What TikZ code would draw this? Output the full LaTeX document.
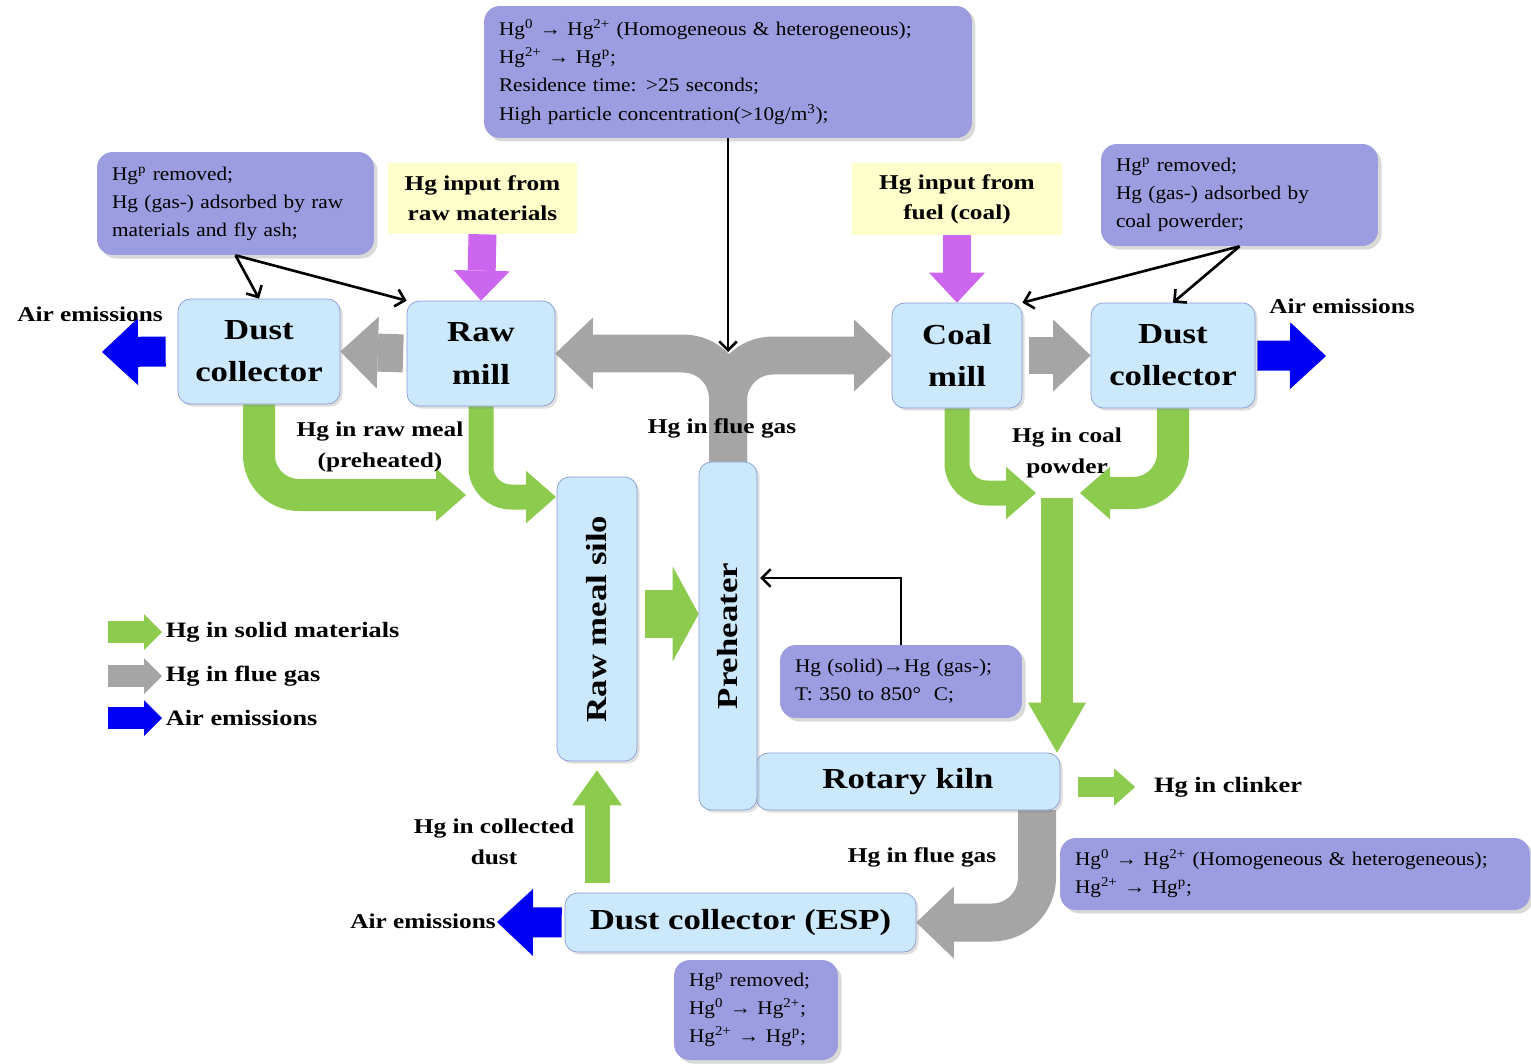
\documentclass[tikz,border=0pt]{standalone}
\usepackage{fontspec}
\setmainfont{Liberation Serif}[FakeStretch=1.2]
\newfontfamily\notefont{Liberation Serif}[FakeStretch=1.1]
\usetikzlibrary{calc}
\usetikzlibrary{shadows}
\usetikzlibrary{positioning, arrows.meta}

\definecolor{unitfill}{HTML}{CCE8FC}
\definecolor{unitline}{HTML}{8A9AD8}
\definecolor{notefill}{HTML}{9C9CE0}
\definecolor{srcfill}{HTML}{FFFFCC}
\definecolor{solidgreen}{HTML}{8DCB4E}
\definecolor{gasgrey}{HTML}{A5A5A5}
\definecolor{airblue}{HTML}{0000F5}
\definecolor{inputpink}{HTML}{CC66EE}

\pgfdeclarelayer{flows}
\pgfsetlayers{flows,main}

\begin{document}
\begin{tikzpicture}[x=0.02cm, y=-0.02cm]
        \useasboundingbox (0, 0) rectangle (1531, 1064);
        % Define styles for shapes
        \tikzstyle{unit} = [draw=unitline, fill=unitfill, rounded corners=7pt, inner sep=2pt, align=center, font=\fontsize{16.5}{24}\selectfont\bfseries, drop shadow={opacity=0.25, shadow xshift=1.5pt, shadow yshift=-1.5pt}]
        \tikzstyle{note} = [fill=notefill, rounded corners=9pt, inner xsep=0.3cm, align=left, font=\notefont\fontsize{11}{16}\selectfont, drop shadow={opacity=0.3, shadow xshift=2pt, shadow yshift=-2pt}]
        \tikzstyle{source} = [fill=srcfill, align=center, font=\fontsize{12}{17}\selectfont\bfseries]
        \tikzstyle{flowtext} = [inner sep=2pt, align=center, font=\fontsize{12}{17.5}\selectfont\bfseries]
        % Define styles for arrows
        \tikzstyle{solidflow} = [draw=solidgreen, line width=0.64cm, -{Triangle[length=0.6cm, width=1.05cm, line width=0pt]}]
        \tikzstyle{gasflow} = [draw=gasgrey, line width=0.76cm, -{Triangle[length=0.75cm, width=1.44cm, line width=0pt]}]
        \tikzstyle{airflow} = [draw=airblue, line width=0.6cm, -{Triangle[length=0.72cm, width=1.34cm, line width=0pt]}]
        \tikzstyle{inflow} = [draw=inputpink, line width=0.56cm, -{Triangle[length=0.6cm, width=1.12cm, line width=0pt]}]
        \tikzstyle{keyflow} = [line width=0.44cm, -{Triangle[length=0.36cm, width=0.72cm, line width=0pt]}]
        \tikzstyle{link} = [draw=black, line width=1.5pt, -{Straight Barb[length=5pt, width=10pt]}]

        % Draw shapes
        \node[unit, minimum width=3.24cm, minimum height=2.1cm] (dcl) at (259, 351.5) {Dust\\collector};
        \node[unit, minimum width=2.96cm, minimum height=2.1cm] (raw) at (481, 353.5) {Raw\\mill};
        \node[unit, minimum width=2.6cm, minimum height=2.1cm] (coal) at (957, 355.5) {Coal\\mill};
        \node[unit, minimum width=3.28cm, minimum height=2.1cm] (dcr) at (1173, 355.5) {Dust\\collector};
        \node[unit, minimum width=1.6cm, minimum height=5.68cm] (silo) at (597, 619) {\rotatebox{90}{Raw meal silo}};
        \node[unit, minimum width=6.08cm, minimum height=1.14cm] (kiln) at (908, 781.5) {Rotary kiln};
        \node[unit, minimum width=1.16cm, minimum height=6.96cm] (pre) at (728, 636) {\rotatebox{90}{Preheater}};
        \node[unit, minimum width=7.02cm, minimum height=1.18cm] (esp) at (740.5, 922.5) {Dust collector (ESP)};

        \node[source, minimum width=3.78cm, minimum height=1.42cm] (srcraw) at (482.5, 198.5) {Hg input from\\raw materials};
        \node[source, minimum width=4.2cm, minimum height=1.44cm] (srcfuel) at (957, 199) {Hg input from\\fuel (coal)};

        \node[note, text width=9.16cm, minimum height=2.64cm] (notetop) at (728, 72) {
            Hg\textsuperscript{0} → Hg\textsuperscript{2+} (Homogeneous \& heterogeneous);\\
            Hg\textsuperscript{2+} → Hg\textsuperscript{p};\\
            Residence time: >25 seconds;\\
            High particle concentration(>10g/m\textsuperscript{3});
        };
        \node[note, text width=4.94cm, minimum height=2.06cm] (noteleft) at (235.5, 203.5) {
            Hg\textsuperscript{p} removed;\\
            Hg (gas-) adsorbed by raw\\
            materials and fly ash;
        };
        \node[note, text width=4.94cm, minimum height=2.04cm] (noteright) at (1239.5, 195) {
            Hg\textsuperscript{p} removed;\\
            Hg (gas-) adsorbed by\\
            coal powerder;
        };
        \node[note, text width=4.24cm, minimum height=1.46cm] (noteheat) at (901, 681.5) {
            Hg (solid)→Hg (gas-);\\
            T: 350 to 850°~~C;
        };
        \node[note, text width=8.8cm, minimum height=1.44cm] (notekiln) at (1295, 874) {
            Hg\textsuperscript{0} → Hg\textsuperscript{2+} (Homogeneous \& heterogeneous);\\
            Hg\textsuperscript{2+} → Hg\textsuperscript{p};
        };
        \node[note, text width=2.68cm, minimum height=2.0cm] (noteesp) at (756, 1010) {
            Hg\textsuperscript{p} removed;\\
            Hg\textsuperscript{0} → Hg\textsuperscript{2+};\\
            Hg\textsuperscript{2+} → Hg\textsuperscript{p};
        };

        % Labels
        \node[flowtext] (airtl) at (90, 314) {Air emissions};
        \node[flowtext] (airtr) at (1342, 306) {Air emissions};
        \node[flowtext] (airbl) at (423, 921) {Air emissions};
        \node[flowtext] (mealtext) at (380, 447) {Hg in raw meal\\(preheated)};
        \node[flowtext] (fluetop) at (722, 428) {Hg in flue gas};
        \node[flowtext] (powtext) at (1067, 453) {Hg in coal\\powder};
        \node[flowtext, font=\fontsize{12.5}{17}\selectfont\bfseries] (clk) at (1228, 787) {Hg in clinker};
        \node[flowtext] (fluebot) at (922, 857) {Hg in flue gas};
        \node[flowtext] (dusttext) at (494, 842) {Hg in collected\\dust};
        \node[flowtext, anchor=west, font=\fontsize{12.5}{17}\selectfont\bfseries] (legsolid) at (162, 632) {Hg in solid materials};
        \node[flowtext, anchor=west, font=\fontsize{12.5}{17}\selectfont\bfseries] (leggas) at (162, 676) {Hg in flue gas};
        \node[flowtext, anchor=west, font=\fontsize{12.5}{17}\selectfont\bfseries] (legair) at (162, 718) {Air emissions};

        % Free ends
        \coordinate (airL) at (102, 352);
        \coordinate (airR) at (1326, 356);
        \coordinate (airB) at (497, 922);
        \coordinate (mealL) at (466, 495);
        \coordinate (mealR) at (556, 497);
        \coordinate (powL) at (1036, 493);
        \coordinate (powR) at (1080, 493);
        \coordinate (powjoin) at (1057, 498);
        \coordinate (kilnout) at (1037, 810);
        \coordinate (gasjoin) at (728, 352);
        \coordinate (heatin) at (760, 578);
        \coordinate (keysolid) at (108, 632);
        \coordinate (keygas) at (108, 676);
        \coordinate (keyair) at (108, 718);

        % Draw arrows
        \begin{pgfonlayer}{flows}
            \draw[gasflow, rounded corners=0.9cm] (pre.north) |- (raw.east);
            \draw[gasflow, rounded corners=0.9cm] (pre.north) |- (coal.west);
            \draw[gasflow, shorten <=2pt] (raw.west) -- (dcl.east);
            \draw[gasflow, shorten <=4pt] (coal.east) -- (dcr.west);
            \draw[gasflow, rounded corners=0.9cm] (kilnout) |- (esp.east);

            \draw[airflow, shorten <=0.24cm] (dcl.west) -- (airL);
            \draw[airflow, shorten <=0.04cm] (dcr.east) -- (airR);
            \draw[airflow, shorten <=0.06cm] (esp.west) -- (airB);

            \draw[inflow] (srcraw.south) -- (raw.north);
            \draw[inflow] (srcfuel.south) -- (coal.north);

            \draw[solidflow, rounded corners=0.8cm] (dcl.south) |- (mealL);
            \draw[solidflow, line width=0.5cm, rounded corners=0.6cm] (raw.south) |- (mealR);
            \draw[solidflow, line width=0.96cm, shorten <=0.16cm, -{Triangle[length=0.52cm, width=1.9cm, line width=0pt]}] (silo.east |- 0,614) -- (pre.west |- 0,614);
            \draw[solidflow, line width=0.5cm, shorten <=0.2cm, shorten >=0.18cm, -{Triangle[length=0.7cm, width=1.0cm, line width=0pt]}] (silo.south |- esp.north) -- (silo.south);
            \draw[solidflow, line width=0.5cm, rounded corners=0.6cm] (coal.south) |- (powL);
            \draw[solidflow, rounded corners=0.8cm] (dcr.south) |- (powR);
            \draw[solidflow, -{Triangle[length=1.0cm, width=1.16cm, line width=0pt]}] (powjoin) -- (powjoin |- kiln.north);
            \draw[solidflow, line width=0.4cm, shorten <=0.36cm, shorten >=0.3cm, -{Triangle[length=0.42cm, width=0.74cm, line width=0pt]}] (kiln.east |- clk) -- (clk.west);

            \draw[keyflow, draw=solidgreen] (keysolid) -- (legsolid.west);
            \draw[keyflow, draw=gasgrey] (keygas) -- (leggas.west);
            \draw[keyflow, draw=airblue] (keyair) -- (legair.west);
        \end{pgfonlayer}

        \draw[link] (notetop.south) -- (gasjoin);
        \draw[link] (noteleft.south) -- (dcl.north);
        \draw[link] (noteleft.south) -- (raw.north west);
        \draw[link] (noteright.south) -- (coal.north east);
        \draw[link] (noteright.south) -- (dcr.north);
        \draw[link] (noteheat.north) |- (heatin);
\end{tikzpicture}
\end{document}
